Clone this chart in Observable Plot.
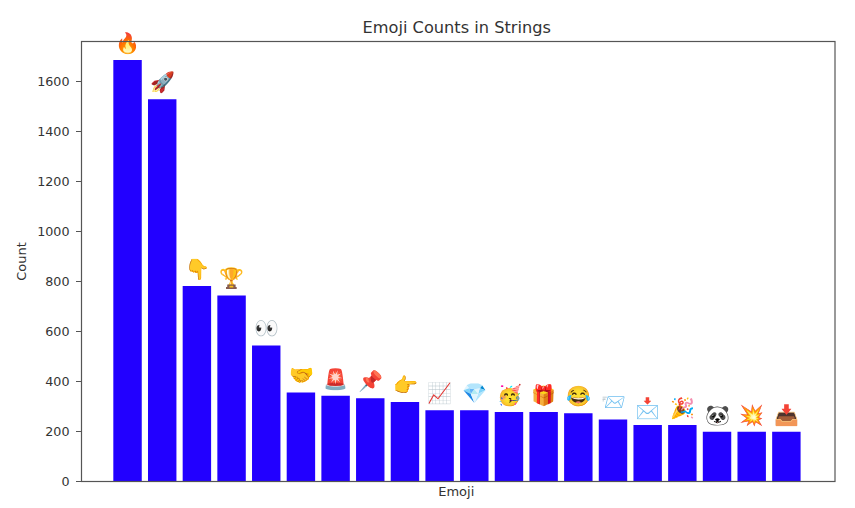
<!DOCTYPE html>
<html>
<head>
<meta charset="utf-8">
<script src="https://cdn.jsdelivr.net/npm/d3@7"></script>
<script src="https://cdn.jsdelivr.net/npm/@observablehq/plot@0.6"></script>
<style>
html,body{margin:0;padding:0;background:#fff}
svg{display:block}
</style>
</head>
<body>
<div id="chart"></div>
<script>
const emojis = ["🔥","🚀","👇","🏆","👀","🤝","🚨","📌","👉","📈","💎","🥳","🎁","😂","📨","📩","🎉","🐼","💥","📥"];
const counts = [1684,1527,780,742,542,354,341,331,316,283,283,276,276,271,246,224,224,197,197,197];
const yTicks = [0,200,400,600,800,1000,1200,1400,1600];
const rows = emojis.map((e,i)=>({emoji:e,count:counts[i]}));

const chart = Plot.plot({
  width:855, height:508,
  marginLeft:81, marginRight:20.5, marginTop:41, marginBottom:27,
  style:{fontFamily:"'DejaVu Sans',sans-serif",fontSize:"12px",color:"#333",background:"#fff",overflow:"visible"},
  x:{domain:emojis,paddingInner:0.18,paddingOuter:0.955,align:0.488,round:false,label:null,axis:null},
  y:{domain:[0,1760],label:null,axis:null},
  marks:[
    Plot.barY(rows,{x:"emoji",y:"count",fill:"#2200ff"}),
    Plot.text(rows,{x:"emoji",y:"count",text:"emoji",dy:-17,fontSize:20,fill:"#333",
      fontFamily:"'Noto Color Emoji','Apple Color Emoji','Noto Sans CJK SC','DejaVu Sans',sans-serif"}),
    Plot.tickY(yTicks,{y:d=>d,frameAnchor:"left",stroke:"#555",insetLeft:-5,insetRight:753.5}),
    Plot.text(yTicks,{y:d=>d,text:d=>String(d),frameAnchor:"left",textAnchor:"end",dx:-12,fontSize:12.7,fill:"#333"}),
    Plot.frame({stroke:"#555",strokeWidth:1.2}),
    Plot.text(["Emoji Counts in Strings"],{frameAnchor:"top",dy:-20,dx:-1.5,fontSize:16.2,fill:"#333"}),
    Plot.text(["Emoji"],{frameAnchor:"bottom",dy:14,dx:-2,fontSize:13,fill:"#333"}),
    Plot.text(["Count"],{frameAnchor:"left",textAnchor:"middle",dx:-60,rotate:-90,fontSize:13,fill:"#333"})
  ]
});
document.getElementById("chart").append(chart);
</script>
</body>
</html>
